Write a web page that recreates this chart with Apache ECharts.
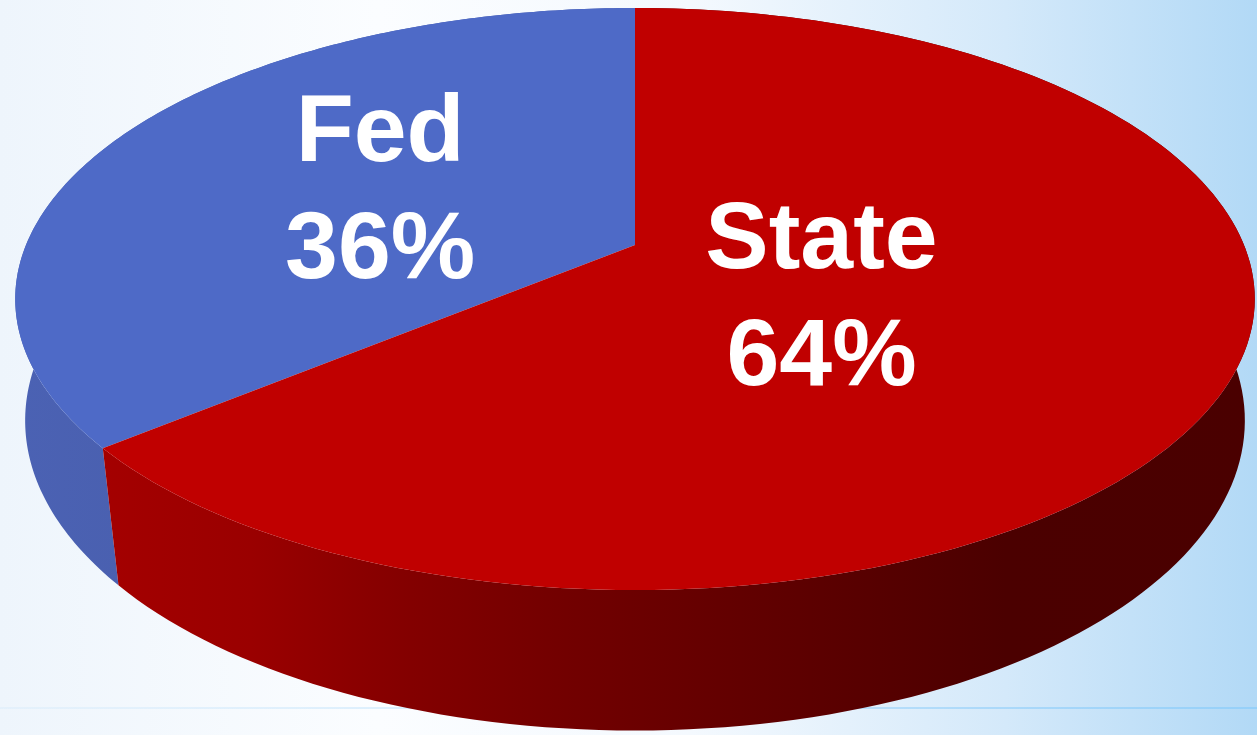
<!DOCTYPE html>
<html>
<head>
<meta charset="utf-8">
<script src="https://cdn.jsdelivr.net/npm/echarts@6/dist/echarts.min.js"></script>
<style>
  html, body { margin: 0; padding: 0; height: 100%; width: 100%; }
  #chart { width: 1257px; height: 735px; }
</style>
</head>
<body>
<div id="chart"></div>
<script>
// data
const categories = ["Fed", "State"];
const shares = [36, 64];

// look of the slices
const topColors = ["#4e6ac7", "#c00000"];
const wallStops = [
  [
    { offset: 0, color: "#4b62b4" },
    { offset: 0.1, color: "#4a60b0" },
    { offset: 1, color: "#3f55a2" },
  ],
  [
    { offset: 0.08, color: "#a40000" },
    { offset: 0.2, color: "#9a0000" },
    { offset: 0.32, color: "#840000" },
    { offset: 0.45, color: "#720000" },
    { offset: 0.58, color: "#630000" },
    { offset: 0.7, color: "#560000" },
    { offset: 0.8, color: "#4b0000" },
    { offset: 1, color: "#4a0000" },
  ],
];
const labelRadius = [0.48, 0.34];
const labelShift = [[0, 4], [-6, 13]];

// tilted pie with a bit of perspective: top face and bottom face
const CX = 635;
const faces = [
  { cy: 245, a: 609, h: 281, b: 0.1856 }, // top
  { cy: 371, a: 602, h: 302, b: 0.16 }, // bottom
];

function project(phi, r, face) {
  const f = faces[face];
  const X = r * Math.cos(phi);
  const Y = r * Math.sin(phi);
  const d = 1 + f.b * Y;
  return [CX + (f.a * X) / d, f.cy - (f.h * Y) / d];
}

let starts = [];
let acc = 0;
for (let i = 0; i < shares.length; i++) {
  starts.push(acc);
  acc += shares[i];
}
const total = acc;

function renderItem(params, api) {
  const i = params.dataIndex;
  const value = api.value(0);
  const a0 = Math.PI / 2 + (starts[i] / total) * Math.PI * 2;
  const a1 = a0 + (value / total) * Math.PI * 2;
  const steps = 160;

  let topPts = [project(0, 0, 0)];
  let rimTop = [];
  let rimBottom = [];
  for (let k = 0; k <= steps; k++) {
    const phi = a0 + ((a1 - a0) * k) / steps;
    const p = project(phi, 1, 0);
    topPts.push(p);
    rimTop.push(p);
    rimBottom.push(project(phi, 1, 1));
  }
  const wallPts = rimTop.concat(rimBottom.reverse());

  const mid = (a0 + a1) / 2;
  const lp = project(mid, labelRadius[i], 0);

  return {
    type: "group",
    children: [
      {
        type: "polygon",
        z2: 0,
        shape: { points: wallPts },
        style: {
          fill: {
            type: "linear",
            x: 0, y: 0, x2: 1257, y2: 0,
            global: true,
            colorStops: wallStops[i],
          },
        },
      },
      {
        type: "polygon",
        z2: 10,
        shape: { points: topPts },
        style: { fill: topColors[i] },
      },
      {
        type: "text",
        z2: 20,
        style: {
          text: categories[i] + "\n" + value + "%",
          x: lp[0] + labelShift[i][0],
          y: lp[1] + labelShift[i][1],
          fill: "#ffffff",
          fontSize: 95,
          fontWeight: "bold",
          fontFamily: "Liberation Sans, Arial, sans-serif",
          lineHeight: 117,
          align: "center",
          verticalAlign: "middle",
        },
      },
    ],
  };
}

let myChart = echarts.init(document.getElementById("chart"));

let option = {
  animation: false,
  backgroundColor: {
    type: "linear",
    x: 0, y: 0, x2: 1, y2: 0,
    colorStops: [
      { offset: 0, color: "#eef5fc" },
      { offset: 0.3, color: "#fbfdff" },
      { offset: 0.55, color: "#f4f9fe" },
      { offset: 0.8, color: "#d4e9fa" },
      { offset: 1, color: "#b2d9f6" },
    ],
  },
  graphic: [
    {
      type: "line",
      shape: { x1: 0, y1: 708, x2: 1257, y2: 708 },
      style: {
        lineWidth: 1.5,
        stroke: {
          type: "linear",
          x: 0, y: 0, x2: 1, y2: 0,
          colorStops: [
            { offset: 0, color: "rgba(170,215,248,0.2)" },
            { offset: 1, color: "rgba(140,205,250,1)" },
          ],
        },
      },
    },
  ],
  series: [
    {
      type: "custom",
      coordinateSystem: "none",
      renderItem: renderItem,
      data: shares.map((v, i) => ({ name: categories[i], value: [v] })),
    },
  ],
};

myChart.setOption(option);
</script>
</body>
</html>
